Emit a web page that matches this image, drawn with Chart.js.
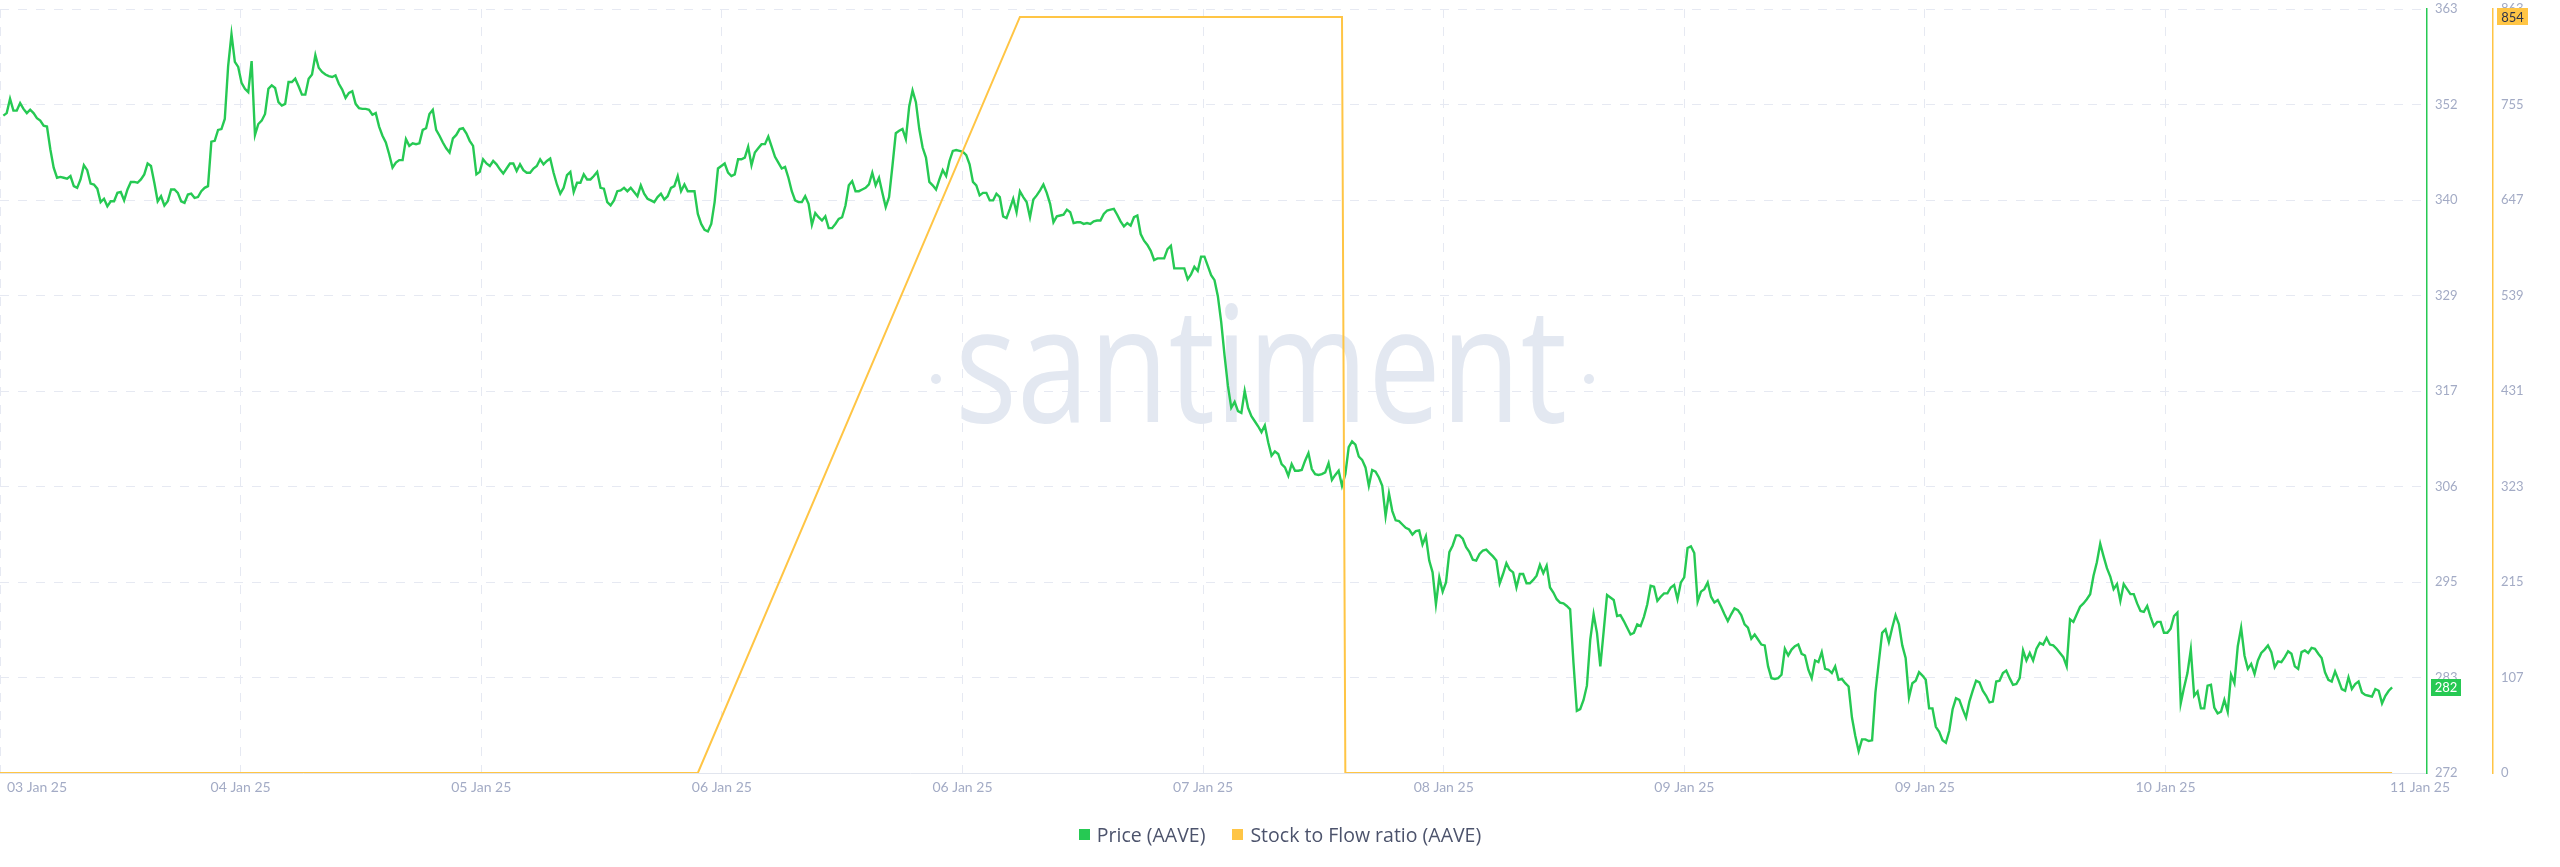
<!DOCTYPE html>
<html>
<head>
<meta charset="utf-8">
<title>AAVE Price vs Stock to Flow ratio</title>
<script src="https://cdn.jsdelivr.net/npm/chart.js@4.4.1/dist/chart.umd.min.js"></script>
<style>
    html, body { margin: 0; padding: 0; background: #fff; }
    #wrap { position: relative; width: 2560px; height: 867px; overflow: hidden; }
    #legend {
        position: absolute; left: 0; top: 822px; width: 2560px; height: 24px;
        display: flex; justify-content: center; align-items: center; gap: 27px;
        font-family: "Open Sans", Lato, sans-serif; font-size: 19.5px; color: #4c536c;
    }
    #legend .item { display: flex; align-items: center; white-space: nowrap; }
    #legend .box { width: 11px; height: 11px; margin-right: 7px; display: inline-block; }
</style>
</head>
<body>
<div id="wrap">
    <canvas id="chart" width="2560" height="867"></canvas>
    <div id="legend"></div>
</div>
<script>
// -- DATA --
// time is in hours since 03 Jan 25 00:00 (UTC)
const xTickLabels = ['03 Jan 25', '04 Jan 25', '05 Jan 25', '06 Jan 25', '06 Jan 25', '07 Jan 25',
                     '08 Jan 25', '09 Jan 25', '09 Jan 25', '10 Jan 25', '11 Jan 25'];
const axisStartHour = 20;
const axisEndHour = 200.85;
const tickStepHours = 17.93;

const priceStartHour = 20.25;
const priceStepHours = 0.25;   // 15 min candles
const priceValues = [
    350.2, 350.5, 352.2, 350.8, 350.8, 351.7, 351.0, 350.5, 350.9, 350.5,
    349.9, 349.6, 349.0, 348.9, 346.2, 344.0, 342.8, 342.9, 342.8, 342.7,
    343.0, 341.8, 341.6, 342.6, 344.3, 343.7, 342.1, 342.0, 341.5, 339.9,
    340.3, 339.4, 340.0, 340.0, 341.0, 341.1, 340.1, 341.4, 342.3, 342.3,
    342.2, 342.6, 343.2, 344.5, 344.2, 342.2, 340.0, 340.6, 339.5, 340.0,
    341.4, 341.4, 341.0, 340.0, 339.8, 340.8, 340.9, 340.4, 340.5, 341.2,
    341.6, 341.8, 347.1, 347.2, 348.5, 348.6, 349.8, 356.1, 359.9, 356.6,
    356.0, 354.1, 353.4, 353.0, 356.7, 347.9, 349.2, 349.6, 350.4, 353.4,
    353.8, 353.5, 351.8, 351.4, 351.6, 354.2, 354.2, 354.6, 353.7, 352.7,
    352.7, 354.6, 355.1, 357.4, 355.9, 355.4, 355.1, 354.9, 354.8, 355.0,
    354.0, 353.3, 352.3, 352.9, 353.1, 351.6, 351.1, 351.0, 351.0, 350.9,
    350.3, 350.5, 348.9, 347.8, 347.0, 345.6, 344.0, 344.6, 344.9, 344.9,
    347.4, 346.6,
    346.9, 346.8, 346.9, 348.5, 348.7, 350.4, 350.9, 348.5, 347.8, 347.0,
    346.3, 345.8, 347.5, 347.9, 348.6, 348.7, 348.1, 347.2, 346.6, 343.2,
    343.5, 345.0, 344.5, 344.2, 344.8, 344.4, 343.8, 343.3, 343.9, 344.5,
    344.5, 343.6, 344.4, 343.7, 343.4, 343.4, 343.9, 344.2, 345.0, 344.4,
    344.8, 345.1, 343.4, 342.0, 340.9, 341.6, 343.1, 343.5, 341.1, 342.2,
    342.2, 343.2, 342.6, 342.6, 343.0, 343.5, 341.6, 341.5, 339.9, 339.5,
    340.1, 341.2, 341.3, 341.6, 341.2, 341.6, 341.1, 340.6, 341.9, 340.9,
    340.3, 340.1, 339.9, 340.5, 340.9, 340.2, 340.6, 341.6, 341.8, 343.0,
    341.2, 342.0, 341.2, 341.2, 341.2, 338.5, 337.3, 336.6, 336.4, 337.3,
    339.9, 343.9, 344.2, 344.5, 343.4, 343.0, 343.2, 345.0, 345.0, 345.2,
    346.5, 344.3, 345.8, 346.3, 346.8, 346.8, 347.7, 346.5, 345.3, 344.6,
    343.9, 344.1, 342.8, 341.2, 340.1, 339.9, 339.9, 340.6, 339.7,
    337.2, 338.6, 338.1, 337.7, 338.2, 336.8, 336.8, 337.3, 337.9, 338.1,
    339.5, 341.9, 342.4, 341.2, 341.2, 341.4, 341.6, 342.0, 343.4, 341.9,
    342.8, 341.0, 339.3, 340.5, 344.2, 348.1, 348.4, 348.6, 347.4, 351.3,
    353.2, 351.8, 348.6, 346.4, 345.2, 342.3, 341.9, 341.4, 342.6, 343.7,
    343.0, 344.8, 346.0, 346.1, 346.0, 345.9, 345.5, 344.4, 342.3, 341.9,
    340.7, 341.0, 341.0, 340.1, 340.1, 340.9, 340.5, 338.2, 338.0, 339.1,
    340.3, 338.7, 341.2, 340.5, 339.9, 338.1, 340.2, 340.7, 341.3, 342.0,
    341.0, 339.7, 337.5, 338.2, 338.3, 338.4, 339.0, 338.7, 337.4, 337.5,
    337.5, 337.3, 337.4, 337.3, 337.6, 337.7, 337.7, 338.5, 338.9, 339.0,
    339.1, 338.4, 337.6, 337.0, 337.4, 337.1, 338.1, 338.3, 336.1, 335.3,
    334.8, 334.1, 333.0, 333.2, 333.2, 333.2, 334.3, 334.7, 332.0, 332.0,
    332.0, 332.0, 330.7, 331.3, 332.2, 331.7, 333.4, 333.4, 332.3,
    331.2, 330.6, 328.7, 325.6, 321.6, 318.0, 315.4, 316.1, 315.0, 314.8,
    317.4, 315.4, 314.4, 313.8, 313.2, 312.5, 313.3, 311.3, 309.7, 310.2,
    309.9, 308.7, 308.3, 307.3, 308.7, 307.9, 307.9, 308.0, 309.1, 310.0,
    308.1, 307.5, 307.4, 307.5, 307.7, 308.8, 306.8, 307.4, 307.9, 306.1,
    307.5, 310.7, 311.4, 311.0, 309.6, 309.2, 308.3, 306.1, 308.0, 307.8,
    307.1, 306.1, 302.5, 305.2, 303.1, 302.0, 301.9, 301.5, 301.1, 300.9,
    300.3, 300.7, 300.8, 299.1, 300.1, 297.2, 295.8, 292.0, 295.2, 293.5,
    294.6, 298.2, 299.0, 300.2, 300.2, 299.8, 298.8, 298.2, 297.3, 297.2,
    298.0, 298.4, 298.5, 298.1, 297.7, 297.2, 294.5, 295.6, 296.9, 296.1,
    295.8, 294.0, 295.6, 295.6, 294.5, 294.5, 294.9, 295.4, 296.7, 295.7,
    296.6, 294.0, 293.4, 292.6, 292.2, 292.1, 291.8, 291.4,
    285.0, 279.3,
    279.5, 280.6, 282.3, 287.8, 290.8, 288.6, 284.6, 288.8, 293.1, 292.8,
    292.5, 290.6, 290.7, 290.0, 289.2, 288.4, 288.6, 289.6, 289.4, 290.5,
    292.0, 294.2, 294.1, 292.4, 292.9, 293.3, 293.3, 294.0, 294.3, 292.6,
    294.6, 295.2, 298.7, 298.9, 298.1, 292.3, 293.5, 293.8, 294.6, 292.9,
    292.2, 292.5, 291.7, 290.8, 290.0, 290.8, 291.5, 291.3, 290.7, 289.6,
    289.2, 287.9, 288.4, 287.8, 287.2, 287.1, 284.6, 283.2, 283.1, 283.2,
    283.6, 286.7, 285.9, 286.6, 287.0, 287.2, 286.1, 285.9, 284.2, 283.2,
    285.3, 285.1, 286.3, 284.3, 284.2, 283.8, 284.6, 283.0, 283.1, 282.6,
    282.2, 278.5, 276.3, 274.5, 275.9, 275.9, 275.7, 275.8, 281.5, 285.1,
    288.6, 289.0, 287.5, 289.2, 290.7, 289.6, 287.1, 285.6, 280.9, 282.6,
    282.9, 283.9, 283.5, 283.0, 279.6, 279.6, 277.4, 276.8, 275.8, 275.5,
    276.9, 279.5, 280.8, 280.6, 279.5, 278.5, 280.4, 281.7, 282.9, 282.7,
    281.7, 281.1, 280.3, 280.4, 282.8, 282.9,
    283.8, 284.1, 283.2, 282.4, 282.5, 283.2, 286.5, 285.3, 286.2, 285.3,
    286.7, 287.4, 287.2, 288.0, 287.2, 287.1, 286.7, 286.2, 285.7, 284.6,
    290.2, 289.9, 290.8, 291.7, 292.1, 292.6, 293.2, 295.4, 297.0, 299.2,
    297.7, 296.3, 295.3, 293.8, 294.4, 292.4, 294.4, 293.8, 293.2, 293.2,
    292.1, 291.2, 291.1, 291.8, 290.5, 289.4, 289.9, 289.9, 288.6, 288.6,
    289.1, 290.6, 291.0, 280.2, 282.1, 283.8, 286.6, 281.1, 281.6, 279.6,
    279.6, 282.3, 282.4, 279.7, 279.0, 279.2, 280.6, 279.2, 283.6, 282.6,
    287.0, 289.2, 285.9, 284.3, 284.9, 283.7, 285.3, 286.2, 286.6, 287.1,
    286.3, 284.5, 285.2, 285.1, 285.7, 286.4, 286.1, 284.6, 284.3, 286.3,
    286.5, 286.2, 286.8, 286.7, 286.1, 285.6, 283.9, 283.0, 282.8, 284.0,
    283.0, 281.9, 281.7, 283.3, 281.9, 282.5, 282.8, 281.5, 281.2, 281.1,
    281.0, 281.9, 281.7, 280.2, 281.1, 281.7, 282.1
];

// daily stock to flow points
const sfrHours = [0, 24, 48, 72, 96, 120, 120.25, 144, 168, 192, 198.25];
const sfrValues = [0, 0, 0, 0, 854, 854, 0, 0, 0, 0, 0];

const priceMin = 271.9, priceMax = 362.9;
const priceTickLabels = ['272', '283', '295', '306', '317', '329', '340', '352', '363'];
const sfrMin = 0, sfrMax = 863;
const sfrTickLabels = ['0', '107', '215', '323', '431', '539', '647', '755', '863'];

// -- STYLE --
const GREEN = '#26c953';
const YELLOW = '#ffc545';
const GRID = '#e6e9f2';
const TICK = '#a3abc5';
const FONT = 'Lato, "Open Sans", sans-serif';

function evenTicks(min, max, n) {
    const out = [];
    for (let k = 0; k < n; k++) out.push({ value: min + k * (max - min) / (n - 1) });
    return out;
}

// y axes: keep the plot area flush with the top, the labels may overhang
function fitRightAxis(width) {
    return axis => {
        axis.width = width;
        axis.paddingTop = 0;
        axis.paddingBottom = 0;
    };
}

// -- PLUGINS --
const watermark = {
    id: 'watermark',
    beforeDatasetsDraw(chart) {
        const ctx = chart.ctx;
        ctx.save();
        ctx.fillStyle = '#e3e8f1';
        ctx.font = '500 160px "Open Sans"';
        const text = 'santiment';
        const w = ctx.measureText(text).width;
        const xh = ctx.measureText('x').actualBoundingBoxAscent;
        ctx.translate(1261, 422);
        ctx.scale(612 / w, 87 / xh);
        ctx.textAlign = 'center';
        ctx.textBaseline = 'alphabetic';
        ctx.fillText(text, 0, 0);
        ctx.restore();

        ctx.save();
        ctx.fillStyle = '#e3e8f1';
        [936, 1589].forEach(x => {
            ctx.beginPath();
            ctx.arc(x, 379, 5, 0, Math.PI * 2);
            ctx.fill();
        });
        ctx.restore();
    }
};

const xLabels = {
    id: 'xLabels',
    afterDraw(chart) {
        const ctx = chart.ctx;
        const scale = chart.scales.x;
        const y = chart.chartArea.bottom + 14;
        ctx.save();
        ctx.font = '14px ' + FONT;
        ctx.fillStyle = TICK;
        ctx.textAlign = 'center';
        ctx.textBaseline = 'middle';
        scale.ticks.forEach((t, i) => {
            const text = xTickLabels[i];
            const w = ctx.measureText(text).width;
            let x = scale.getPixelForValue(t.value);
            if (i === 0) x = Math.max(x, w / 2 + 7);
            if (i === scale.ticks.length - 1) x -= 7;
            ctx.fillText(text, x, y);
        });
        ctx.restore();
    }
};

function drawBadge(ctx, x, y, w, text, bg, fg) {
    const h = 17;
    ctx.fillStyle = bg;
    ctx.fillRect(x, Math.round(y - h / 2), w, h);
    ctx.fillStyle = fg;
    ctx.font = '13px ' + FONT;
    ctx.textAlign = 'center';
    ctx.textBaseline = 'middle';
    ctx.fillText(text, x + w / 2, y + 0.5);
}

const badges = {
    id: 'badges',
    afterDraw(chart) {
        const ctx = chart.ctx;
        const p = chart.scales.price;
        const s = chart.scales.sfr;
        ctx.save();
        const lastPrice = priceValues[priceValues.length - 1];
        drawBadge(ctx, p.left + 4, p.getPixelForValue(lastPrice), 30, String(Math.round(lastPrice)), GREEN, '#ffffff');
        const lastSfr = sfrValues.filter(v => v > 0).pop();
        drawBadge(ctx, s.left + 4, s.getPixelForValue(lastSfr), 31, String(lastSfr), YELLOW, '#2f344a');
        ctx.restore();
    }
};

// -- CHART --
function buildChart() {
    const pricePoints = priceValues.map((v, i) => ({ x: priceStartHour + i * priceStepHours, y: v }));
    const sfrPoints = sfrValues.map((v, i) => ({ x: sfrHours[i], y: v }));

    const chart = new Chart(document.getElementById('chart'), {
        type: 'line',
        data: {
            datasets: [
                { label: 'Price (AAVE)', data: pricePoints, yAxisID: 'price', borderColor: GREEN, backgroundColor: GREEN,
                  borderWidth: 2.4, pointRadius: 0, tension: 0, order: 1 },
                { label: 'Stock to Flow ratio (AAVE)', data: sfrPoints, yAxisID: 'sfr', borderColor: YELLOW, backgroundColor: YELLOW,
                  borderWidth: 2, pointRadius: 0, tension: 0, order: 0 }
            ]
        },
        options: {
            responsive: false,
            animation: false,
            devicePixelRatio: 1,
            layout: { padding: { top: 9, left: 0, right: 0, bottom: 0 } },
            plugins: { legend: { display: false }, tooltip: { enabled: false } },
            scales: {
                x: {
                    type: 'linear',
                    min: axisStartHour,
                    max: axisEndHour,
                    afterBuildTicks: axis => {
                        axis.ticks = xTickLabels.map((_, k) => ({
                            value: k < xTickLabels.length - 1 ? axisStartHour + k * tickStepHours : axisEndHour
                        }));
                    },
                    ticks: { display: false },
                    grid: {
                        color: c => c.index === xTickLabels.length - 1 ? 'rgba(0,0,0,0)' : GRID,
                        drawTicks: false,
                        lineWidth: 1
                    },
                    border: { color: '#e1e5ee', width: 1, dash: [9, 9] },
                    afterFit: axis => { axis.height = 94; }
                },
                price: {
                    position: 'right',
                    min: priceMin,
                    max: priceMax,
                    afterBuildTicks: axis => { axis.ticks = evenTicks(priceMin, priceMax, priceTickLabels.length); },
                    ticks: { callback: (v, i) => priceTickLabels[i], color: TICK, font: { family: FONT, size: 13 }, padding: 8 },
                    grid: { color: GRID, drawTicks: false, lineWidth: 1 },
                    border: { color: GREEN, width: 1.5, dash: [9, 9] },
                    afterFit: fitRightAxis(66)
                },
                sfr: {
                    position: 'right',
                    min: sfrMin,
                    max: sfrMax,
                    afterBuildTicks: axis => { axis.ticks = evenTicks(sfrMin, sfrMax, sfrTickLabels.length); },
                    ticks: { callback: (v, i) => sfrTickLabels[i], color: TICK, font: { family: FONT, size: 13 }, padding: 8 },
                    grid: { display: false, drawTicks: false },
                    border: { color: YELLOW, width: 1.5 },
                    afterFit: fitRightAxis(67)
                }
            }
        },
        plugins: [watermark, xLabels, badges]
    });

    // html legend from the datasets
    const legend = document.getElementById('legend');
    legend.innerHTML = chart.data.datasets.map(d =>
        `<span class="item"><span class="box" style="background:${d.borderColor}"></span>${d.label}</span>`
    ).join('');
}

buildChart();
</script>
</body>
</html>
